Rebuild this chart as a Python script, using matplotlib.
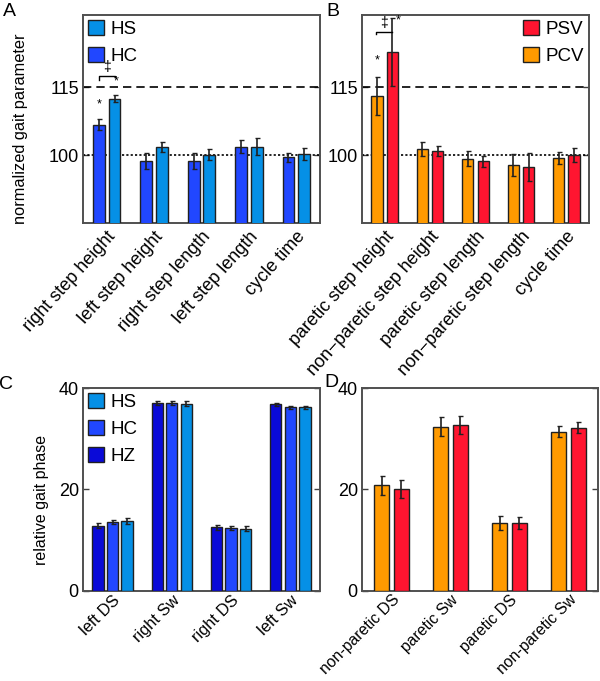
import numpy as np
import matplotlib
matplotlib.use("Agg")
from matplotlib import pyplot as plt

plt.rcParams["font.family"] = ["Liberation Sans", "DejaVu Sans"]
plt.rcParams["font.size"] = 12

# panel A: healthy subjects, normalized gait parameters
params_a = ["right step height", "left step height", "right step length",
            "left step length", "cycle time"]
hc_a = [106.7, 98.7, 98.7, 101.9, 99.5]
hc_a_err = [1.2, 1.8, 1.7, 1.5, 1.0]
hs_a = [112.5, 101.8, 100.1, 101.9, 100.2]
hs_a_err = [0.75, 1.2, 1.2, 1.9, 1.3]

# panel B: patients
params_b = ["paretic step height", "non\u2212paretic step height",
            "paretic step length", "non\u2212paretic step length", "cycle time"]
pcv_b = [113.1, 101.4, 99.2, 97.8, 99.3]
pcv_b_err = [4.3, 1.55, 1.7, 2.5, 1.3]
psv_b = [122.8, 100.9, 98.6, 97.3, 100.0]
psv_b_err = [7.5, 1.1, 1.3, 3.1, 1.5]

# panel C: healthy gait phases
phases_c = ["left DS", "right Sw", "right DS", "left Sw"]
hz_c = [12.8, 37.0, 12.5, 36.8]
hz_c_err = [0.5, 0.4, 0.45, 0.3]
hc_c = [13.5, 37.1, 12.4, 36.2]
hc_c_err = [0.4, 0.4, 0.4, 0.3]
hs_c = [13.8, 36.9, 12.2, 36.2]
hs_c_err = [0.6, 0.5, 0.5, 0.3]

# panel D: patient gait phases
phases_d = ["non-paretic DS", "paretic Sw", "paretic DS", "non-paretic Sw"]
pcv_d = [20.8, 32.4, 13.35, 31.4]
pcv_d_err = [1.9, 1.9, 1.45, 1.15]
psv_d = [20.0, 32.7, 13.35, 32.2]
psv_d_err = [1.8, 1.7, 1.1, 1.15]

c_hz = "#0a0ad8"
c_hc = "#2147ff"
c_hs = "#0590e6"
c_pcv = "#ff9a00"
c_psv = "#ff1530"

fig = plt.figure(figsize=(6.0, 6.81), dpi=100)
ax_a = fig.add_axes([0.1383, 0.673, 0.395, 0.3045])
ax_b = fig.add_axes([0.6033, 0.673, 0.3784, 0.3045])
ax_c = fig.add_axes([0.1383, 0.1326, 0.395, 0.2976])
ax_d = fig.add_axes([0.6033, 0.1326, 0.3934, 0.2976])


def style(ax, labels, ylim, yticks, xfs, rot, xpad):
    n = len(labels)
    ax.set_xlim(0.5, n + 0.5)
    ax.set_ylim(*ylim)
    ax.set_xticks(np.arange(1, n + 1))
    ax.set_xticklabels(labels, rotation=rot, ha="right", rotation_mode="anchor",
                       fontsize=xfs)
    ax.set_yticks(yticks)
    ax.tick_params(axis="x", length=0, pad=xpad)
    ax.tick_params(axis="y", direction="in", length=4, right=True, width=1.0,
                   color="#404040", pad=3, labelsize=13)
    for s in ax.spines.values():
        s.set_color("#505050")
        s.set_linewidth(1.4)


def bars(ax, series, errs, colors, labels, offsets, width):
    x = np.arange(1, len(series[0]) + 1)
    for vals, err, col, lab, off in zip(series, errs, colors, labels, offsets):
        ax.bar(x + off, vals, width, color=col, edgecolor="#202020",
               linewidth=1.0, label=lab, zorder=3)
        ax.errorbar(x + off, vals, yerr=err, fmt="none", ecolor="#202020",
                    elinewidth=1.2, capsize=1.8, capthick=1.0, zorder=4)


def bracket(ax, x1, x2, y, leg1, leg2):
    ax.plot([x1, x1, x2, x2], [y - leg1, y, y, y - leg2], color="k", lw=1.0,
            zorder=5)


leg_kw = dict(frameon=False, handlelength=0.85, handleheight=0.85,
              labelspacing=0.5, handletextpad=0.35, borderaxespad=0.1,
              borderpad=0.15, fontsize=13.5)

# A
bars(ax_a, [hc_a, hs_a], [hc_a_err, hs_a_err], [c_hc, c_hs], ["HC", "HS"],
     [-0.165, 0.165], 0.25)
style(ax_a, params_a, (85, 131), [100, 115], 13, 48, 4)
ax_a.axhline(115, color="k", ls=(0, (5, 3)), lw=1.2, zorder=2)
ax_a.axhline(100, color="k", ls=(0, (1.3, 1.3)), lw=1.2, zorder=2)
ax_a.set_ylabel("normalized gait parameter", fontsize=11.8)
ax_a.yaxis.set_label_coords(-0.234, 0.455)
h, l = ax_a.get_legend_handles_labels()
ax_a.legend(h[::-1], l[::-1], loc="upper left", **leg_kw)
ax_a.text(1 - 0.165, hc_a[0] + hc_a_err[0] + 3.3, "*", ha="center",
          va="center", fontsize=9)
ax_a.text(1 + 0.2, hs_a[0] + hs_a_err[0] + 3.0, "*", ha="center",
          va="center", fontsize=9)
bracket(ax_a, 1 - 0.165, 1 + 0.165, 117.6, 0.9, 0.3)
ax_a.text(1, 119.6, "\u2021", ha="center", va="center", fontsize=10)

# B
bars(ax_b, [pcv_b, psv_b], [pcv_b_err, psv_b_err], [c_pcv, c_psv],
     ["PCV", "PSV"], [-0.17, 0.17], 0.25)
style(ax_b, params_b, (85, 131), [100, 115], 13, 48, 4)
ax_b.axhline(115, color="k", ls=(0, (5, 3)), lw=1.2, zorder=2)
ax_b.axhline(100, color="k", ls=(0, (1.3, 1.3)), lw=1.2, zorder=2)
h, l = ax_b.get_legend_handles_labels()
ax_b.legend(h[::-1], l[::-1], loc="upper right", **leg_kw)
ax_b.text(1 - 0.17, pcv_b[0] + pcv_b_err[0] + 3.5, "*", ha="center",
          va="center", fontsize=9)
ax_b.text(1 + 0.3, psv_b[0] + psv_b_err[0] - 0.4, "*", ha="center",
          va="center", fontsize=9)
bracket(ax_b, 1 - 0.2, 1 + 0.17, 127.4, 0.5, 0.0)
ax_b.text(1 - 0.02, 129.4, "\u2021", ha="center", va="center", fontsize=10)

# C
bars(ax_c, [hz_c, hc_c, hs_c], [hz_c_err, hc_c_err, hs_c_err],
     [c_hz, c_hc, c_hs], ["HZ", "HC", "HS"], [-0.245, 0.0, 0.245], 0.19)
style(ax_c, phases_c, (0, 40), [0, 20, 40], 11.8, 45, 1.5)
ax_c.set_ylabel("relative gait phase", fontsize=11.5)
ax_c.yaxis.set_label_coords(-0.143, 0.447)
h, l = ax_c.get_legend_handles_labels()
ax_c.legend(h[::-1], l[::-1], loc="upper left", **leg_kw)

# D
bars(ax_d, [pcv_d, psv_d], [pcv_d_err, psv_d_err], [c_pcv, c_psv],
     ["PCV", "PSV"], [-0.165, 0.165], 0.25)
style(ax_d, phases_d, (0, 40), [0, 20, 40], 11.3, 45, 1)

fig.text(0.015, 0.983, "A", fontsize=14, va="center", ha="center")
fig.text(0.555, 0.983, "B", fontsize=14, va="center", ha="center")
fig.text(0.01, 0.435, "C", fontsize=14, va="center", ha="center")
fig.text(0.552, 0.438, "D", fontsize=14, va="center", ha="center")

fig.savefig("out.png", dpi=100)
